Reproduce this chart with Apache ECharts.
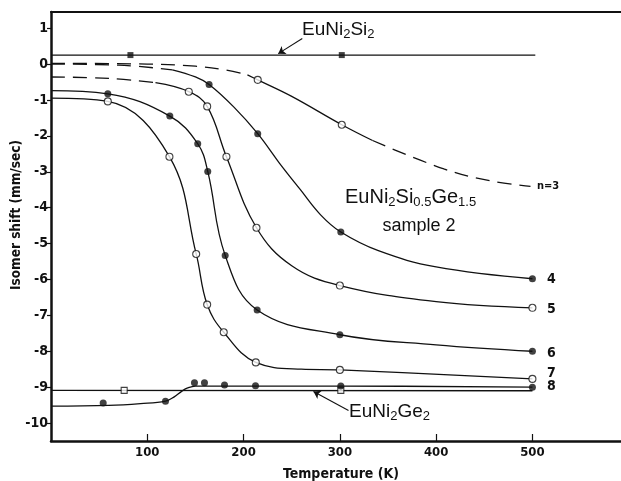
<!DOCTYPE html>
<html>
<head>
<meta charset="utf-8">
<script src="https://cdn.jsdelivr.net/npm/echarts@6/dist/echarts.min.js"></script>
<style>
  html, body { margin: 0; padding: 0; background: #fff; }
  #chart { width: 621px; height: 481px; }
</style>
</head>
<body>
<div id="chart"></div>
<script>
// Axis ticks
const tempTicks = [100, 200, 300, 400, 500];
const shiftTicks = [-10, -9, -8, -7, -6, -5, -4, -3, -2, -1, 0, 1];

// Measured isomer shifts (T in K, shift in mm/sec)
const si2Points = [[82.5, 0.25], [302, 0.25]];
const ge2Points = [[76, -9.09], [301, -9.09]];
const run3Points = [[214.7, -0.44], [302, -1.69]];
const run4Points = [[164.2, -0.57], [214.7, -1.94], [301, -4.68], [500, -5.98]];
const run5Points = [[143.1, -0.77], [162.2, -1.18], [182.2, -2.58], [213.4, -4.56], [300, -6.17], [500, -6.79]];
const run6Points = [[59, -0.83], [123.4, -1.45], [152.4, -2.22], [162.8, -2.99], [180.9, -5.33], [214.1, -6.85], [300, -7.54], [500, -8.0]];
const run7Points = [[59, -1.04], [123, -2.58], [150.8, -5.29], [162.2, -6.70], [179.4, -7.47], [212.7, -8.31], [300, -8.52], [500, -8.77]];
const run8Points = [[54.2, -9.44], [118.9, -9.39], [149, -8.88], [159.4, -8.88], [180.2, -8.94], [212.4, -8.96], [301, -8.97], [500, -9.0]];

// Guide curves drawn through the data
const si2Line = [[0, 0.25], [503, 0.25]];
const ge2Line = [[0, -9.09], [500, -9.1]];
const run3Lead = [[0, 0.02], [100, 0.0], [150, -0.06], [180, -0.16], [204, -0.3]];
const run3Fit = [[204, -0.3], [214.7, -0.44], [250, -0.9], [302, -1.69], [334, -2.13]];
const run3Tail = [[334, -2.13], [408, -2.92], [456, -3.25], [498, -3.41]];
const run4Lead = [[0, 0.0], [70, -0.03], [126, -0.16]];
const run4Fit = [[126, -0.16], [150, -0.36], [164.2, -0.57], [190, -1.2], [214.7, -1.94], [237, -2.75], [259, -3.5], [280, -4.2], [301, -4.68], [340, -5.2], [400, -5.65], [500, -5.98]];
const run5Lead = [[0, -0.36], [60, -0.4], [108.5, -0.52]];
const run5Fit = [[108.5, -0.52], [143.1, -0.77], [162.2, -1.18], [182.2, -2.58], [213.4, -4.56], [250, -5.62], [300, -6.17], [400, -6.62], [500, -6.79]];
const run6Fit = [[0, -0.74], [59, -0.83], [123.4, -1.45], [152.4, -2.22], [162.8, -2.99], [180.9, -5.33], [214.1, -6.85], [300, -7.54], [400, -7.82], [500, -8.0]];
const run7Fit = [[0, -0.95], [59, -1.04], [123, -2.58], [150.8, -5.29], [162.2, -6.70], [179.4, -7.47], [212.7, -8.31], [260, -8.5], [300, -8.52], [500, -8.77]];
const run8Fit = [[0, -9.53], [60, -9.51], [93, -9.46], [118.9, -9.39], [128, -9.27], [136, -9.11], [142, -9.02], [150, -8.97], [300, -8.97], [500, -9.0]];

// Annotation arrows (data coordinates)
const si2Arrow = [[261, 0.71], [236, 0.29]];
const ge2Arrow = [[309, -9.65], [272.6, -9.12]];

const INK = '#111';
const TICK_FONT = "'Liberation Sans Narrow', 'DejaVu Sans Condensed', 'Liberation Sans', sans-serif";
const LABEL_FONT = "'Liberation Sans', 'DejaVu Sans', sans-serif";

function curve(data, dashed) {
  return {
    type: 'line', data: data, showSymbol: false, silent: true,
    smooth: 0.4,
    lineStyle: { color: INK, width: 1.3, type: dashed ? [14, 8] : 'solid' },
    z: 2
  };
}
function markers(data, filled, shape) {
  return {
    type: 'scatter', data: data, symbol: shape || 'circle',
    symbolSize: shape === 'rect' ? 6 : 7, silent: true,
    itemStyle: { color: filled ? INK : '#fff', borderColor: INK, borderWidth: filled ? 0 : 1.1 },
    z: 5
  };
}
function arrow(pts) {
  return {
    type: 'lines', coordinateSystem: 'cartesian2d', silent: true,
    data: [{ coords: pts }],
    symbol: ['none', 'arrow'], symbolSize: 7,
    lineStyle: { color: INK, width: 1.1, opacity: 1 },
    z: 4
  };
}
function sub(size, drop) {
  return { fontSize: size, padding: [drop, 0, 0, 0], fontFamily: LABEL_FONT };
}

const chart = echarts.init(document.getElementById('chart'), null, { renderer: 'canvas' });

chart.setOption({
  animation: false,
  backgroundColor: '#fff',
  grid: { left: 51, right: 0, top: 12, bottom: 40, containLabel: false },
  xAxis: [{
    type: 'value', min: 0, max: 592,
    axisLine: { show: true, onZero: false, lineStyle: { color: INK, width: 2.5 } },
    axisTick: { show: true, inside: true, length: 7, customValues: tempTicks, lineStyle: { color: INK, width: 1.2 } },
    axisLabel: { customValues: tempTicks, margin: 5, color: INK, fontFamily: TICK_FONT, fontWeight: 'bold', fontSize: 13 },
    splitLine: { show: false }
  }, {
    type: 'value', position: 'top', min: 0, max: 592,
    axisLine: { show: true, onZero: false, lineStyle: { color: INK, width: 2.2 } },
    axisTick: { show: false }, axisLabel: { show: false }, splitLine: { show: false }
  }],
  yAxis: {
    type: 'value', min: -10.5, max: 1.45,
    axisLine: { show: true, onZero: false, lineStyle: { color: INK, width: 2.5 } },
    axisTick: { show: true, length: 4, customValues: shiftTicks, lineStyle: { color: INK, width: 1.2 } },
    axisLabel: { customValues: shiftTicks, margin: 3, color: INK, fontFamily: TICK_FONT, fontWeight: 'bold', fontSize: 14 },
    splitLine: { show: false }
  },
  series: [
    curve(si2Line), curve(ge2Line),
    curve(run3Lead, true), curve(run3Fit), curve(run3Tail, true),
    curve(run4Lead, true), curve(run4Fit),
    curve(run5Lead, true), curve(run5Fit),
    curve(run6Fit), curve(run7Fit), curve(run8Fit),
    markers(si2Points, true, 'rect'), markers(ge2Points, false, 'rect'),
    markers(run3Points, false), markers(run4Points, true), markers(run5Points, false),
    markers(run6Points, true), markers(run7Points, false), markers(run8Points, true),
    arrow(si2Arrow), arrow(ge2Arrow)
  ],
  graphic: [
    { type: 'text', left: 9, top: 140, rotation: Math.PI / 2,
      style: { text: 'Isomer shift (mm/sec)', fill: INK, font: "bold 13.5px " + TICK_FONT } },
    { type: 'text', x: 341, y: 474,
      style: { text: 'Temperature (K)', fill: INK, font: "bold 14px " + TICK_FONT, align: 'center', verticalAlign: 'middle' } },
    { type: 'text', x: 302, y: 18,
      style: { text: 'EuNi{s|2}Si{s|2}', fill: INK, font: '19px ' + LABEL_FONT, rich: { s: sub(13, 10) } } },
    { type: 'text', x: 345, y: 186,
      style: { text: 'EuNi{s|2}Si{s|0.5}Ge{s|1.5}', fill: INK, font: '20px ' + LABEL_FONT, rich: { s: sub(13, 10) } } },
    { type: 'text', x: 419, y: 226,
      style: { text: 'sample 2', fill: INK, font: '18px ' + LABEL_FONT, align: 'center', verticalAlign: 'middle' } },
    { type: 'text', x: 349, y: 400,
      style: { text: 'EuNi{s|2}Ge{s|2}', fill: INK, font: '19px ' + LABEL_FONT, rich: { s: sub(13, 10) } } },
    { type: 'text', x: 537, y: 186,
      style: { text: 'n=3', fill: INK, font: 'bold 11px ' + TICK_FONT, verticalAlign: 'middle' } },
    { type: 'text', x: 547, y: 279, style: { text: '4', fill: INK, font: 'bold 14px ' + TICK_FONT, verticalAlign: 'middle' } },
    { type: 'text', x: 547, y: 309, style: { text: '5', fill: INK, font: 'bold 14px ' + TICK_FONT, verticalAlign: 'middle' } },
    { type: 'text', x: 547, y: 353, style: { text: '6', fill: INK, font: 'bold 14px ' + TICK_FONT, verticalAlign: 'middle' } },
    { type: 'text', x: 547, y: 373, style: { text: '7', fill: INK, font: 'bold 14px ' + TICK_FONT, verticalAlign: 'middle' } },
    { type: 'text', x: 547, y: 386, style: { text: '8', fill: INK, font: 'bold 14px ' + TICK_FONT, verticalAlign: 'middle' } }
  ]
});
</script>
</body>
</html>
